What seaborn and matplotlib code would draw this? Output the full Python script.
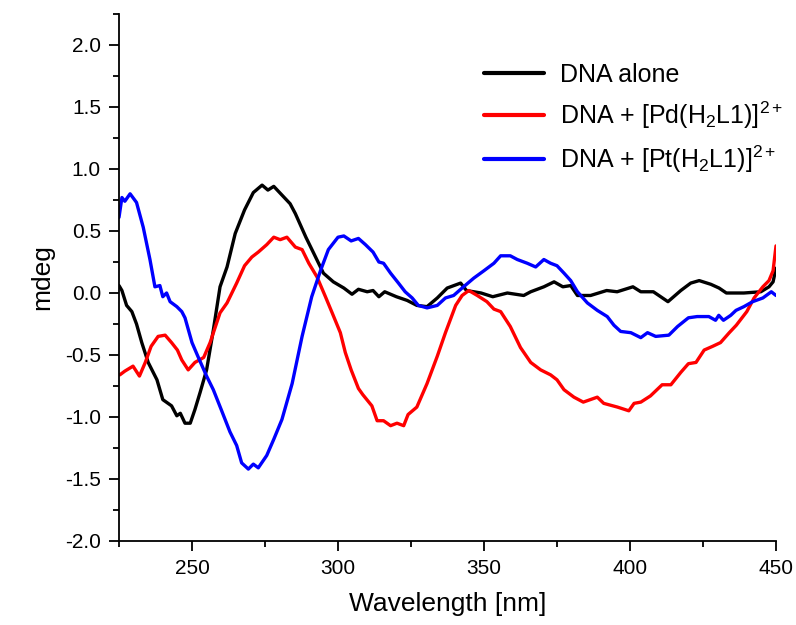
import numpy as np
import pandas as pd
import matplotlib
matplotlib.use("Agg")
import matplotlib.pyplot as plt
import seaborn as sns
from matplotlib.ticker import MultipleLocator

# ---- data ----
wl_dna = [225, 226, 227.6, 229.4, 231, 232.8, 235, 238, 240, 243, 244.8, 246, 247.6, 249.4,
          251, 252.8, 255, 257.3, 259.6, 262, 264.8, 268, 271, 274, 276, 278, 280, 283.6,
          285.4, 289, 291.7, 295, 298.4, 302, 304.8, 307, 310, 312, 314, 316, 320, 323.7,
          327, 330.5, 334, 337.4, 342, 344, 349, 353, 358, 363.6, 366, 370.5, 374, 377,
          379.7, 382, 386.5, 392, 395.6, 401, 403.7, 408, 410.5, 413, 417.4, 420.8, 423.7,
          427.7, 430.5, 433, 439, 444.8, 447.6, 449, 450]
cd_dna = [0.06, 0.02, -0.10, -0.15, -0.25, -0.40, -0.56, -0.70, -0.86, -0.91, -0.99, -0.97,
          -1.05, -1.05, -0.94, -0.80, -0.62, -0.30, 0.05, 0.21, 0.48, 0.67, 0.81, 0.87, 0.83,
          0.86, 0.81, 0.72, 0.64, 0.45, 0.32, 0.16, 0.09, 0.04, -0.01, 0.03, 0.01, 0.02,
          -0.03, 0.01, -0.03, -0.06, -0.10, -0.11, -0.04, 0.04, 0.08, 0.02, 0.0, -0.03, 0.0,
          -0.02, 0.01, 0.05, 0.09, 0.05, 0.06, -0.02, -0.02, 0.02, 0.01, 0.05, 0.01, 0.01,
          -0.03, -0.07, 0.02, 0.08, 0.10, 0.07, 0.04, 0.0, 0.0, 0.01, 0.05, 0.09, 0.20]

wl_pd = [225.3, 227, 229.8, 232, 234, 236, 238.4, 240.8, 243, 245, 246.5, 248.7, 251, 254,
         256.2, 259.6, 262, 265.3, 268, 270.5, 272.7, 275.6, 278, 280.2, 282.5, 285.4, 287.7,
         290, 292.8, 295.7, 298, 300.8, 302.5, 304.5, 307, 308.5, 311.6, 313.4, 315.6, 318,
         320.2, 322.5, 324, 327, 330.5, 334, 336.8, 340.3, 342.5, 344.8, 347.7, 351, 353.4,
         355.7, 359, 362.5, 366, 369.4, 372.8, 375, 377.4, 380.8, 384, 388.8, 391, 395.7,
         399.6, 401.4, 403.7, 407, 411, 414, 417.4, 420, 422.6, 425.4, 428.3, 431, 434,
         436.4, 440, 442.5, 445.5, 447.6, 449, 450]
cd_pd = [-0.66, -0.63, -0.59, -0.67, -0.56, -0.43, -0.35, -0.34, -0.40, -0.46, -0.54, -0.62,
         -0.56, -0.52, -0.40, -0.16, -0.08, 0.08, 0.22, 0.29, 0.33, 0.39, 0.45, 0.43, 0.45,
         0.37, 0.35, 0.24, 0.13, -0.03, -0.16, -0.32, -0.48, -0.62, -0.77, -0.82, -0.91,
         -1.03, -1.03, -1.07, -1.05, -1.07, -0.98, -0.92, -0.73, -0.51, -0.32, -0.10, -0.02,
         0.02, -0.02, -0.07, -0.13, -0.15, -0.27, -0.44, -0.56, -0.62, -0.66, -0.70, -0.78,
         -0.84, -0.88, -0.84, -0.89, -0.92, -0.95, -0.89, -0.88, -0.83, -0.74, -0.74, -0.64,
         -0.57, -0.56, -0.46, -0.43, -0.40, -0.32, -0.26, -0.15, -0.04, 0.05, 0.10, 0.18, 0.38]

wl_pt = [225, 226, 227, 228.8, 231, 233.3, 235.6, 237.3, 239, 240, 241.3, 242.5, 244.8, 246.5,
         247.6, 250, 252, 255, 257.3, 260, 263, 265.3, 267, 269.3, 271, 272.7, 275.6, 278,
         280.8, 284.3, 287.7, 291, 294, 296.7, 300, 302, 304.5, 307, 309.4, 312, 314, 315.6,
         318, 320.7, 323, 325.4, 327.5, 330.5, 334, 336.8, 339.6, 342.5, 346.5, 350, 353.4,
         355.7, 359, 361.4, 364.8, 367.7, 370.5, 372.8, 375, 377.4, 379.7, 382, 385.4, 388.8,
         392.2, 394.5, 396.8, 400.3, 403.7, 406, 408.8, 413.3, 416.3, 420, 423, 427, 429.3,
         430.4, 432, 434.5, 436.3, 439, 442, 445.5, 448.4, 450]
cd_pt = [0.61, 0.77, 0.74, 0.80, 0.73, 0.53, 0.27, 0.05, 0.06, -0.03, 0.0, -0.07, -0.11, -0.15,
         -0.20, -0.40, -0.51, -0.67, -0.78, -0.94, -1.12, -1.23, -1.37, -1.42, -1.38, -1.41,
         -1.31, -1.18, -1.02, -0.73, -0.35, -0.03, 0.18, 0.35, 0.45, 0.46, 0.42, 0.44, 0.39,
         0.33, 0.25, 0.24, 0.16, 0.08, 0.01, -0.04, -0.10, -0.12, -0.10, -0.04, -0.02, 0.04,
         0.12, 0.18, 0.24, 0.30, 0.30, 0.27, 0.24, 0.21, 0.27, 0.24, 0.22, 0.16, 0.10, 0.01,
         -0.08, -0.14, -0.19, -0.26, -0.31, -0.32, -0.36, -0.32, -0.35, -0.34, -0.27, -0.20,
         -0.19, -0.19, -0.22, -0.18, -0.22, -0.18, -0.14, -0.11, -0.07, -0.04, 0.01, -0.02]

labels = ["DNA alone",
          r"DNA + [Pd(H$_\mathregular{2}$L1)]$^\mathregular{2+}$",
          r"DNA + [Pt(H$_\mathregular{2}$L1)]$^\mathregular{2+}$"]
colors = ["#000000", "#FF0000", "#0000FF"]

df = pd.concat([
    pd.DataFrame({"wl": wl_dna, "cd": cd_dna, "sample": labels[0]}),
    pd.DataFrame({"wl": wl_pd, "cd": cd_pd, "sample": labels[1]}),
    pd.DataFrame({"wl": wl_pt, "cd": cd_pt, "sample": labels[2]}),
], ignore_index=True)

sns.set_style("ticks")
plt.rcParams["font.family"] = ["Liberation Sans", "DejaVu Sans"]
plt.rcParams["mathtext.fontset"] = "custom"
plt.rcParams["mathtext.rm"] = "Liberation Sans"
plt.rcParams["mathtext.it"] = "Liberation Sans"
plt.rcParams["text.color"] = "black"
plt.rcParams["axes.labelcolor"] = "black"
plt.rcParams["axes.edgecolor"] = "black"
plt.rcParams["xtick.color"] = "black"
plt.rcParams["ytick.color"] = "black"

fig = plt.figure(figsize=(7.96, 6.25), dpi=100)
ax = fig.add_axes([119 / 796, 84 / 625, (776 - 119) / 796, (541 - 14) / 625])

sns.lineplot(data=df, x="wl", y="cd", hue="sample", palette=colors, estimator=None,
             sort=False, linewidth=2.4, ax=ax)

ax.set_xlim(225, 450)
ax.set_ylim(-2.0, 2.25)
ax.xaxis.set_major_locator(MultipleLocator(50))
ax.xaxis.set_minor_locator(MultipleLocator(25))
ax.yaxis.set_major_locator(MultipleLocator(0.5))
ax.yaxis.set_minor_locator(MultipleLocator(0.25))
ax.set_xticks([250, 300, 350, 400, 450])
ax.yaxis.set_major_formatter(matplotlib.ticker.FormatStrFormatter("%.1f"))
ax.tick_params(which="major", direction="out", length=7, width=1.3, labelsize=15, pad=6,
               colors="black")
ax.tick_params(which="minor", direction="out", length=4.5, width=1.3, colors="black")
for s in ["top", "right"]:
    ax.spines[s].set_visible(False)
for s in ["left", "bottom"]:
    ax.spines[s].set_linewidth(1.3)
    ax.spines[s].set_color("black")

ax.set_xlabel("Wavelength [nm]", fontsize=19, labelpad=10, color="black")
ax.set_ylabel("mdeg", fontsize=19, labelpad=8, color="black")

leg = ax.legend(loc="upper right", bbox_to_anchor=(1.045, 0.95), frameon=False, fontsize=18,
                handlelength=2.4, handletextpad=0.65, labelspacing=0.5, title=None)
for h in leg.get_lines():
    h.set_linewidth(3)
for t in leg.get_texts():
    t.set_color("black")

fig.savefig("out.png", dpi=100)
